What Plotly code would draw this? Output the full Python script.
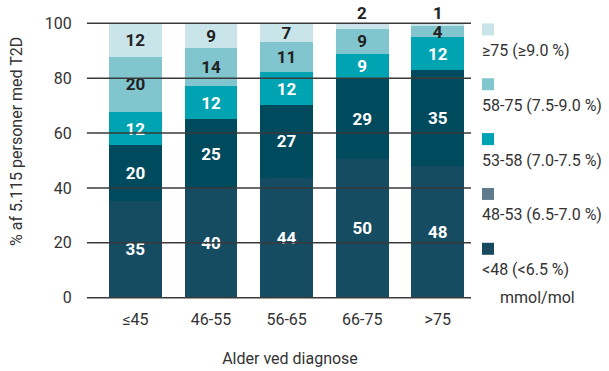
import plotly.graph_objects as go

# ---- data ----
categories = ["≤45", "46-55", "56-65", "66-75", ">75"]
series_names = ["&lt;48 (&lt;6.5 %)", "48-53 (6.5-7.0 %)", "53-58 (7.0-7.5 %)",
                "58-75 (7.5-9.0 %)", "≥75 (≥9.0 %)"]
v_lt48 = [35, 40, 44, 50, 48]
v_48_53 = [20, 25, 27, 29, 35]
v_53_58 = [12, 12, 12, 9, 12]
v_58_75 = [20, 14, 11, 9, 4]
v_ge75 = [12, 9, 7, 2, 1]
y_ticks = [0, 20, 40, 60, 80, 100]
unit_label = "mmol/mol"

series_values = [v_lt48, v_48_53, v_53_58, v_58_75, v_ge75]
bar_colors = ["#164c62", "#004a5d", "#00a3b1", "#81c6cf", "#cae5ea"]
legend_colors = ["#17495f", "#5f798d", "#00a3b1", "#81c6cf", "#cae5ea"]
text_colors = ["white", "white", "white", "#222222", "#222222"]
FONT = "Roboto"
SMALL = 5  # top-segment values below this get their label above the bar

fig = go.Figure()
annotations = []
for i, (name, vals) in enumerate(zip(series_names, series_values)):
    is_top = i == len(series_values) - 1
    texts = [("" if (is_top and v < SMALL) else str(v)) for v in vals]
    fig.add_trace(go.Bar(
        x=categories, y=vals, name=name,
        marker=dict(color=bar_colors[i], line=dict(width=0)),
        text=texts, texttemplate="%{text}",
        textposition="inside", insidetextanchor="middle", textangle=0,
        constraintext="none", cliponaxis=False,
        textfont=dict(family=FONT, size=17, color=text_colors[i], weight="bold"),
        showlegend=False,
    ))
    if is_top:
        for c, v in zip(categories, vals):
            if v < SMALL:
                total = sum(s[categories.index(c)] for s in series_values)
                annotations.append(dict(
                    x=c, y=100.0 * total / total, xref="x", yref="y",
                    yanchor="middle", yshift=10, showarrow=False, text=str(v),
                    font=dict(family=FONT, size=17, color="#222222", weight="bold")))

shapes = []
# gridlines drawn above bars
for t in y_ticks:
    shapes.append(dict(type="line", xref="paper", yref="y", x0=-0.061, x1=1.0,
                       y0=t, y1=t, line=dict(color="#3a3a3a", width=1.5), layer="above"))

# custom legend: swatch at gridline level, text below
legend_ticks = y_ticks[::-1]  # 100, 80, ..., 0
for k, i in enumerate(range(len(series_names) - 1, -1, -1)):
    t = legend_ticks[k]
    shapes.append(dict(type="rect", xref="paper", yref="y",
                       xsizemode="pixel", xanchor=1.0, x0=11, x1=23,
                       ysizemode="pixel", yanchor=t, y0=-12, y1=0,
                       fillcolor=legend_colors[i], line=dict(width=0), layer="above"))
    annotations.append(dict(xref="paper", yref="y", x=1.0, y=t, xshift=9, yshift=-27,
                            xanchor="left", yanchor="middle", showarrow=False,
                            text=series_names[i],
                            font=dict(family=FONT, size=16, color="#333333")))
annotations.append(dict(xref="paper", yref="y", x=1.0, y=legend_ticks[-1], xshift=27,
                        xanchor="left", yanchor="middle", showarrow=False,
                        text=unit_label, font=dict(family=FONT, size=16, color="#333333")))
annotations.append(dict(xref="paper", yref="paper", x=-0.254, y=0.567,
                        xanchor="center", yanchor="middle", textangle=-90, showarrow=False,
                        text="% af 5.115 personer med T2D",
                        font=dict(family=FONT, size=16, color="#333333")))

fig.update_layout(
    width=609, height=371,
    margin=dict(l=109, r=138, t=22, b=72, autoexpand=False),
    barmode="stack", barnorm="percent", bargap=0.3,
    plot_bgcolor="white", paper_bgcolor="white",
    font=dict(family=FONT, size=16, color="#333333"),
    shapes=shapes, annotations=annotations,
    xaxis=dict(range=[-0.35, 4.44], showgrid=False, zeroline=False, showline=False,
               ticks="", ticklabelstandoff=9, automargin=False,
               tickfont=dict(family=FONT, size=16, color="#333333"),
               title=dict(text="Alder ved diagnose", standoff=24,
                          font=dict(family=FONT, size=16, color="#333333"))),
    yaxis=dict(range=[-0.5, 100.5], tickvals=y_ticks, showgrid=False, zeroline=False,
               showline=False, ticks="outside", ticklen=22, tickcolor="rgba(0,0,0,0)",
               ticklabelstandoff=11, automargin=False,
               tickfont=dict(family=FONT, size=16, color="#333333")),
)

fig.write_html("out.html")
